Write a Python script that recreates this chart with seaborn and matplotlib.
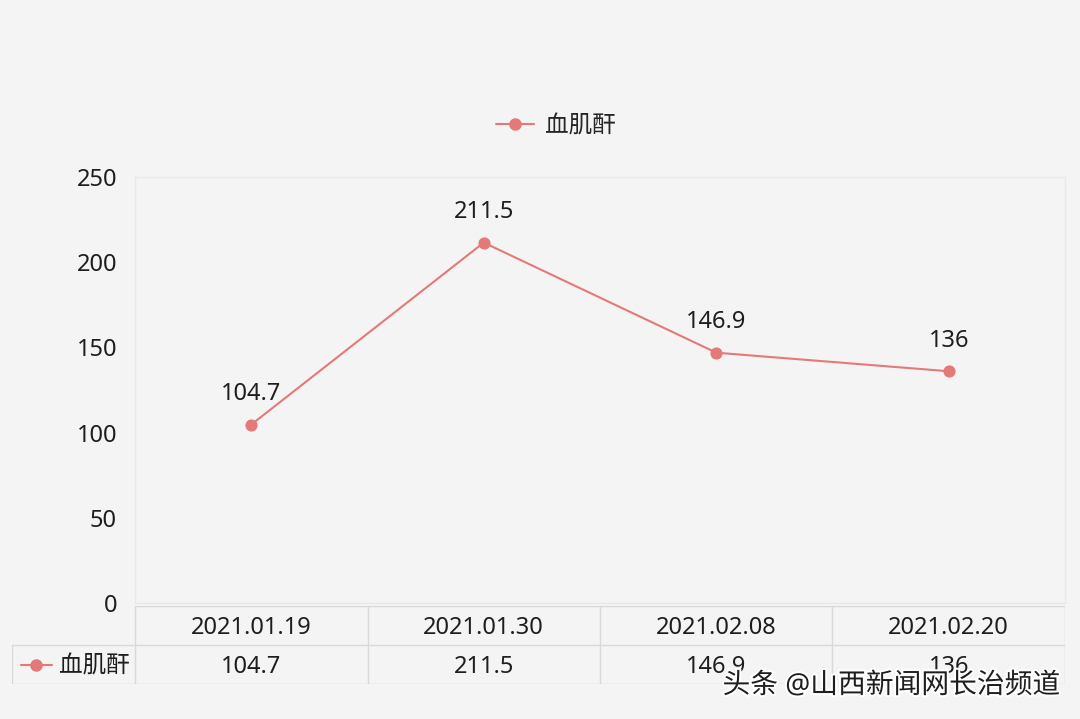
import matplotlib
matplotlib.use("Agg")
import matplotlib.pyplot as plt
import matplotlib.patheffects as pe
import seaborn as sns
import pandas as pd
from matplotlib.lines import Line2D

dates = ["2021.01.19", "2021.01.30", "2021.02.08", "2021.02.20"]
values = [104.7, 211.5, 146.9, 136]
labels = ["104.7", "211.5", "146.9", "136"]
series = "血肌酐"
yticks = [0, 50, 100, 150, 200, 250]

sns.set_style("white")
plt.rcParams['font.family'] = ['Noto Sans', 'Noto Sans CJK SC', 'DejaVu Sans']

bg = "#f4f4f4"
red = "#e47a78"
grid = "#d9d9d9"
ink = "#1e1e1e"

fig = plt.figure(figsize=(10.8, 7.19), dpi=100, facecolor=bg)
ax = fig.add_axes([135/1080, 1-603/719, 930/1080, 426/719])
ax.set_facecolor(bg)

df = pd.DataFrame({"date": dates, "value": values})
sns.lineplot(x=range(len(dates)), y="value", data=df, ax=ax, color=red,
             marker="o", markersize=8, markeredgecolor=red, linewidth=1.5)
for i, (v, t) in enumerate(zip(values, labels)):
    ax.annotate(t, (i, v), xytext=(0, 22), textcoords="offset points",
                ha="center", va="center", fontsize=17, color=ink)

ax.set_xlim(-0.5, 3.5)
ax.set_ylim(0, 250)
ax.set_yticks(yticks)
ax.set_yticklabels([str(t) for t in yticks], fontsize=17, color=ink)
ax.tick_params(axis="y", length=0, pad=13)
ax.set_xticks([])
ax.set_xlabel("")
ax.set_ylabel("")
for s in ax.spines.values():
    s.set_color("#e9e9e9")
    s.set_linewidth(1)

# legend
h = Line2D([0], [0], color=red, marker="o", markersize=8, linewidth=1.5)
fig.legend([h], [series], loc="center", bbox_to_anchor=(556/1080, 1-126/719),
           frameon=False, fontsize=17, handlelength=1.6, handletextpad=0.45)

# data table below
tab = fig.add_axes([12/1080, 1-684/719, 1053/1080, 78/719])
tab.set_facecolor("none")
lx = -0.5 - 123/232.5
tab.set_xlim(lx, 3.5)
tab.set_ylim(0, 2)
tab.axis("off")
tab.plot([-0.5, 3.5], [2, 2], color=grid, lw=1)
tab.plot([lx, 3.5], [1, 1], color=grid, lw=1)
tab.plot([lx, 3.5], [0, 0], color=grid, lw=1)
for xb in [-0.5, 0.5, 1.5, 2.5, 3.5]:
    tab.plot([xb, xb], [0, 2], color=grid, lw=1)
tab.plot([lx, lx], [0, 1], color=grid, lw=1)
for i, (d, t) in enumerate(zip(dates, labels)):
    tab.text(i, 1.43, d, ha="center", va="center", fontsize=17, color=ink)
    tab.text(i, 0.43, t, ha="center", va="center", fontsize=17, color=ink)
tab.plot([lx + 0.04, lx + 0.17], [0.5, 0.5], color=red, lw=1.5)
tab.plot([lx + 0.105], [0.5], marker="o", color=red, markersize=8)
tab.text(lx + 0.2, 0.45, series, ha="left", va="center", fontsize=17, color=ink)

fig.text(1060/1080, 1-686/719, "头条 @山西新闻网长治频道", ha="right", va="center",
         fontsize=20, color=ink,
         path_effects=[pe.withStroke(linewidth=3, foreground="white")])

fig.savefig("out.png", dpi=100, facecolor=bg)
